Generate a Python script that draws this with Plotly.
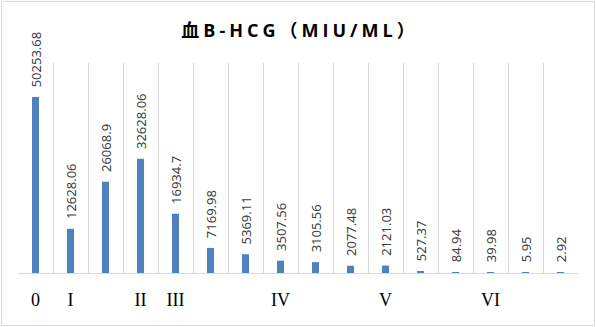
import plotly.graph_objects as go

values = [50253.68, 12628.06, 26068.9, 32628.06, 16934.7, 7169.98, 5369.11, 3507.56,
          3105.56, 2077.48, 2121.03, 527.37, 84.94, 39.98, 5.95, 2.92]
tick_labels = ["0", "I", "", "II", "III", "", "", "IV", "", "", "V", "", "", "VI", "", ""]
title_text = "血B-HCG（MIU/ML）"

x = list(range(len(values)))
labels = ["\u00a0\u00a0" + str(v) for v in values]

W, H = 596, 327
ml, mr, mt, mb = 18, 18, 63, 54
pw, ph = W - ml - mr, H - mt - mb

fig = go.Figure(go.Bar(
    x=x, y=values, width=0.2,
    marker=dict(color="#4F81BD", line=dict(width=0)),
    text=labels, textposition="outside", textangle=-90,
    constraintext="none", cliponaxis=False,
    textfont=dict(family="Noto Sans", size=13, color="#404040"),
    hoverinfo="skip",
))

fig.update_layout(
    width=W, height=H,
    margin=dict(l=ml, r=mr, t=mt, b=mb, pad=0),
    paper_bgcolor="white", plot_bgcolor="white",
    showlegend=False,
    title=dict(text='<b><span style="letter-spacing:4px">' + title_text + '</span></b>',
               x=300 / W, xanchor="center", xref="container",
               y=1 - 31 / H, yanchor="middle",
               font=dict(family="Open Sans, Noto Sans CJK SC", size=18, color="#000000")),
    xaxis=dict(range=[-0.5, len(values) - 0.5], tickmode="array", tickvals=x,
               ticktext=tick_labels, showgrid=False, zeroline=False,
               showline=True, linecolor="#d9d9d9", linewidth=1, ticks="",
               ticklabelstandoff=10,
               tickfont=dict(family="Liberation Serif", size=18, color="#000000"),
               minor=dict(tickmode="array", tickvals=[i - 0.5 for i in range(len(values) + 1)],
                          showgrid=True, gridcolor="#d9d9d9", gridwidth=1, ticks="")),
    yaxis=dict(range=[0, 60000], visible=False, showgrid=False, zeroline=False),
    shapes=[dict(type="rect", xref="paper", yref="paper",
                 x0=(1.5 - ml) / pw, x1=(594.5 - ml) / pw,
                 y0=(H - mb - 325.5) / ph, y1=(H - mb - 1.5) / ph,
                 line=dict(color="#d9d9d9", width=1), fillcolor="rgba(0,0,0,0)",
                 layer="below")],
)

fig.write_html("out.html", config={"displayModeBar": False},
               post_script="document.body.style.margin='0';")
